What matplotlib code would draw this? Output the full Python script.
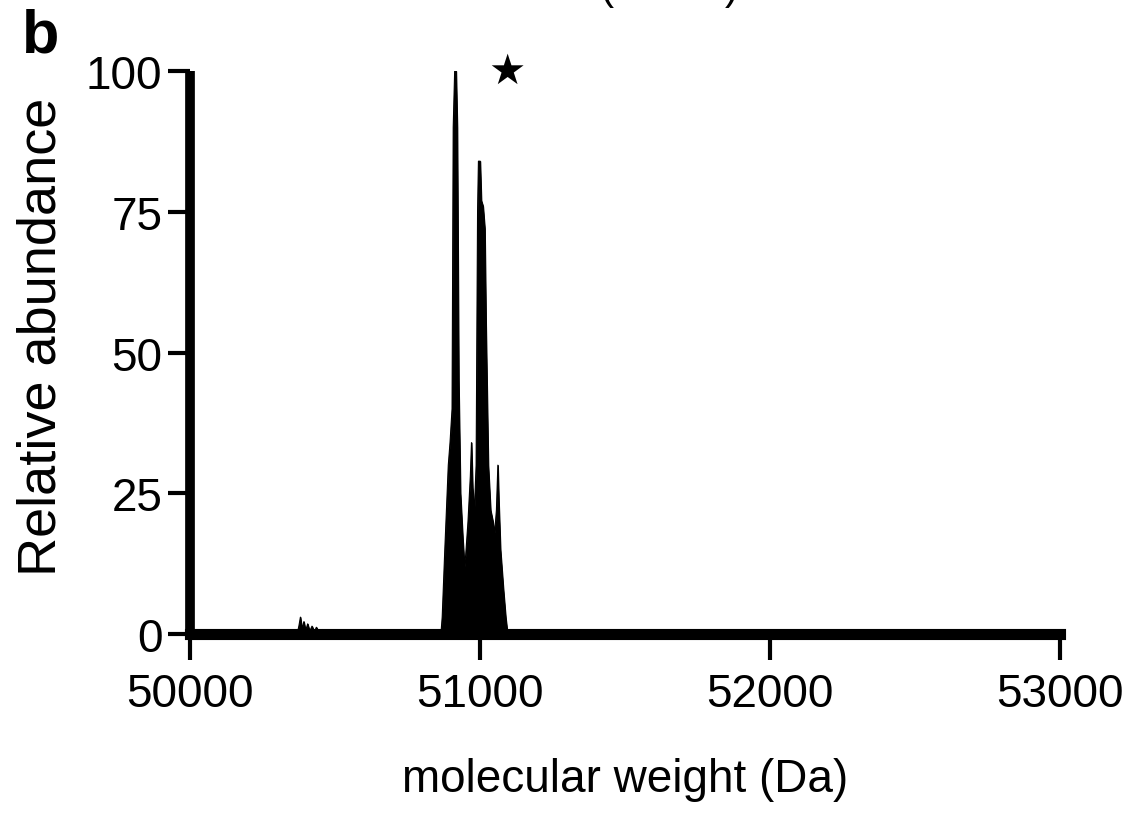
import matplotlib
matplotlib.use("Agg")
import matplotlib.pyplot as plt

plt.rcParams['font.family'] = ['Liberation Sans', 'DejaVu Sans']

# spectrum vertices (Da, relative abundance)
mass = [50000, 50370, 50375, 50380, 50385, 50392, 50398, 50405, 50412, 50420,
        50428, 50435, 50445, 50455, 50470, 50480, 50490, 50865,
        50869, 50878, 50886, 50890, 50896, 50903, 50907, 50912, 50917, 50921,
        50926, 50932, 50940, 50946, 50950, 50958, 50966, 50970, 50974,
        50980, 50986, 50991, 50994, 51000, 51004, 51010, 51016, 51020,
        51028, 51036, 51044, 51050, 51056, 51061, 51064, 51070, 51080,
        51088, 51094, 51500, 53000]
abund = [0.3, 0.3, 1.5, 3.0, 1.0, 2.2, 0.6, 1.8, 0.5, 1.4,
         0.4, 1.2, 0.3, 0.8, 0.3, 0.5, 0.2, 0.3,
         3, 15, 25, 30, 34, 40, 90, 100, 100, 90,
         45, 25, 17, 12, 14, 20, 28, 34, 26,
         22, 30, 75, 84, 84, 77, 76, 72, 55,
         30, 22, 20, 18, 22, 30, 24, 15, 8,
         3, 0.3, 0.4, 0.2]

xticks = [50000, 51000, 52000, 53000]
yticks = [0, 25, 50, 75, 100]

fig = plt.figure(figsize=(11.46, 8.29), dpi=100)
ax = fig.add_axes([0.166, 0.234, 0.759, 0.679])

ax.fill_between(mass, 0, abund, color='black', linewidth=0.8)
ax.plot(mass, abund, color='black', linewidth=0.8)

ax.set_xlim(50000, 53000)
ax.set_ylim(0, 100)
ax.set_xticks(xticks)
ax.set_yticks(yticks)
ax.tick_params(labelsize=33, width=3)
ax.tick_params(axis='x', length=19, pad=8)
ax.tick_params(axis='y', length=16, pad=4)

for side in ['top', 'right']:
    ax.spines[side].set_visible(False)
ax.spines['left'].set_linewidth(7)
ax.spines['bottom'].set_linewidth(8)
ax.spines['left'].set_capstyle('butt')

ax.set_ylabel('Relative abundance', fontsize=39)
ax.yaxis.set_label_coords(-0.1425, 0.53)
ax.set_xlabel('molecular weight (Da)', fontsize=33, labelpad=30)

# star marking the peak
ax.text(51092, 100, '★', fontsize=30, ha='center', va='center',
        family=['DejaVu Sans'], clip_on=False)

fig.text(0.019, 0.955, 'b', fontsize=44, fontweight='bold', va='center')
# title of the panel, cut off at the top edge
fig.text(0.5, 1.015, '51086 Da (±1 Da)', fontsize=30, ha='center', va='center')

fig.savefig('out.png', dpi=100)
